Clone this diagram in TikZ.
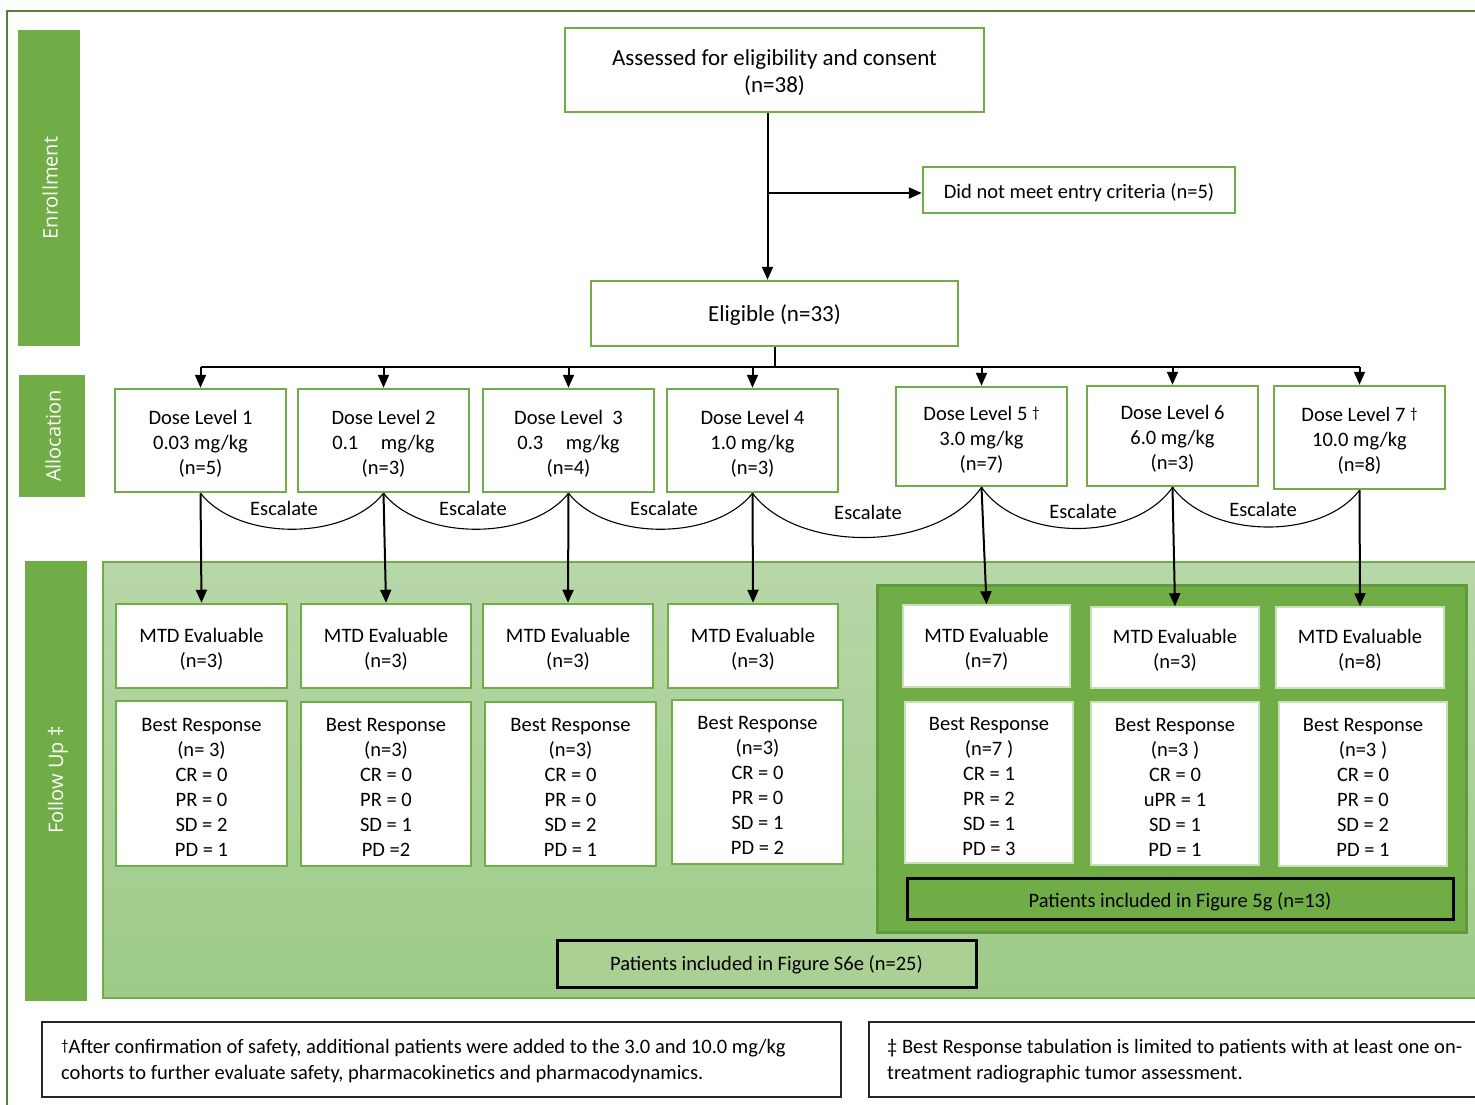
\documentclass[tikz,border=0pt]{standalone}
\usepackage{fontspec}
\setmainfont{Carlito}
\newfontfamily\sidefont{Open Sans}
\usetikzlibrary{arrows.meta}
\definecolor{gr}{RGB}{112,173,71}
\definecolor{frame}{RGB}{84,130,53}
\definecolor{lighttop}{RGB}{183,215,168}
\definecolor{lightbot}{RGB}{158,203,136}
\definecolor{darkbd}{RGB}{96,154,60}
\definecolor{s6e}{RGB}{170,208,148}
\definecolor{innerbd}{RGB}{200,225,185}
\newcommand{\dg}{{\fontsize{15}{15}\selectfont\raisebox{2.5pt}{†}}}
\newcommand{\sr}{\rule{0pt}{20.5pt}}
\begin{document}
\begin{tikzpicture}[x=1pt,y=-1pt,
  gbox/.style={draw=gr, line width=2.5pt, fill=white, align=center, inner sep=0pt,
    font=\fontsize{20.5}{25}\selectfont, text=black, execute at begin node={\rule{0pt}{19.5pt}}},
  wbox/.style={gbox, draw=innerbd, line width=1.5pt},
  pbox/.style={draw=black, line width=3pt, align=center, inner sep=0pt,
    font=\fontsize{20.5}{25}\selectfont, text=black},
  fbox/.style={draw=black!85, line width=1.5pt, inner sep=0pt},
  ftext/.style={align=left, anchor=west, inner sep=0pt, font=\fontsize{20.5}{26}\selectfont},
  side/.style={rotate=90, text=white, inner sep=0pt, font=\sidefont\fontsize{20}{22}\selectfont},
  esc/.style={inner sep=0pt, font=\fontsize{20.5}{22}\selectfont},
  arr/.style={draw=black, line width=2pt, -{Triangle[length=13pt,width=11pt]}},
  line/.style={draw=black, line width=2pt},
  arc/.style={draw=black, line width=1.1pt}
]
\useasboundingbox (0,0) rectangle (1475,1105);
% frame
\draw[frame, line width=1.3pt] (7,1105) -- (7,11) -- (1480,11);
% side bars
\fill[gr] (18,30) rectangle (80,346);
\node[side] (enr) at (50,188) {Enrollment};
\fill[gr] (19,375) rectangle (85,497);
\node[side] (alloc) at (53,436) {Allocation};
\fill[gr] (25,561) rectangle (87,1001);
\node[side] (fu) at (58,780) {Follow Up ‡};
% panels
\shade[top color=lighttop, bottom color=lightbot] (103,562) rectangle (1480,998);
\draw[gr, line width=1.3pt] (1480,562) -- (103,562) -- (103,998) -- (1480,998);
\draw[darkbd, fill=gr, line width=3pt] (877,585) rectangle (1466,932);
% top boxes
\node[gbox, minimum width=419pt, minimum height=84pt, font=\fontsize{23}{27}\selectfont] (assess) at (774.5,70) {\sr Assessed for eligibility and consent\\(n=38)};
\node[gbox, minimum width=312pt, minimum height=46pt] (dnm) at (1079,190) {Did not meet entry criteria (n=5)};
\node[gbox, minimum width=367pt, minimum height=65pt, font=\fontsize{23}{26}\selectfont] (elig) at (774.5,313.5) {Eligible (n=33)};
% dose boxes
\node[gbox, minimum width=171pt, minimum height=103pt] (d1) at (200.5,440.5) {\sr Dose Level 1\\0.03 mg/kg\\(n=5)};
\node[gbox, minimum width=171pt, minimum height=103pt] (d2) at (383.5,440.5) {\sr Dose Level 2\\0.1\hspace{1.1em}mg/kg\\(n=3)};
\node[gbox, minimum width=171pt, minimum height=103pt] (d3) at (568.5,440.5) {\sr Dose Level\ \ 3\\0.3\hspace{1.1em}mg/kg\\(n=4)};
\node[gbox, minimum width=171pt, minimum height=103pt] (d4) at (752.5,440.5) {\sr Dose Level 4\\1.0 mg/kg\\(n=3)};
\node[gbox, minimum width=171pt, minimum height=99pt] (d5) at (981.5,436.5) {\sr Dose Level 5 \dg\\3.0 mg/kg\\(n=7)};
\node[gbox, minimum width=171pt, minimum height=100pt] (d6) at (1172.5,436) {\sr Dose Level 6\\6.0 mg/kg\\(n=3)};
\node[gbox, minimum width=171pt, minimum height=103pt] (d7) at (1359.5,437.5) {\sr Dose Level 7 \dg\\10.0 mg/kg\\(n=8)};
% MTD boxes
\node[gbox, minimum width=171pt, minimum height=84pt] (m1) at (201.5,646) {\sr MTD Evaluable\\(n=3)};
\node[gbox, minimum width=170pt, minimum height=84pt] (m2) at (386,646) {\sr MTD Evaluable\\(n=3)};
\node[gbox, minimum width=170pt, minimum height=84pt] (m3) at (568,646) {\sr MTD Evaluable\\(n=3)};
\node[gbox, minimum width=170pt, minimum height=84pt] (m4) at (753,646) {\sr MTD Evaluable\\(n=3)};
\node[wbox, minimum width=167pt, minimum height=82pt] (m5) at (986.5,646) {\sr MTD Evaluable\\(n=7)};
\node[wbox, minimum width=168pt, minimum height=81pt] (m6) at (1175,647.5) {\sr MTD Evaluable\\(n=3)};
\node[wbox, minimum width=168pt, minimum height=81pt] (m7) at (1360,647.5) {\sr MTD Evaluable\\(n=8)};
% best response boxes
\node[gbox, minimum width=171pt, minimum height=165pt] (b1) at (201.5,783.5) {\sr Best Response\\(n= 3)\\CR = 0\\PR = 0\\SD = 2\\PD = 1};
\node[gbox, minimum width=170pt, minimum height=164pt] (b2) at (386,784) {\sr Best Response\\(n=3)\\CR = 0\\PR = 0\\SD = 1\\PD =2};
\node[gbox, minimum width=171pt, minimum height=164pt] (b3) at (570.5,784) {\sr Best Response\\(n=3)\\CR = 0\\PR = 0\\SD = 2\\PD = 1};
\node[gbox, minimum width=171pt, minimum height=164pt] (b4) at (757.5,782) {\sr Best Response\\(n=3)\\CR = 0\\PR = 0\\SD = 1\\PD = 2};
\node[wbox, minimum width=168pt, minimum height=161pt] (b5) at (989,782.5) {\sr Best Response\\(n=7 )\\CR = 1\\PR = 2\\SD = 1\\PD = 3};
\node[wbox, minimum width=168pt, minimum height=163pt] (b6) at (1175,783.5) {\sr Best Response\\(n=3 )\\CR = 0\\uPR = 1\\SD = 1\\PD = 1};
\node[wbox, minimum width=168pt, minimum height=164pt] (b7) at (1363,784) {\sr Best Response\\(n=3 )\\CR = 0\\PR = 0\\SD = 2\\PD = 1};
% patient boxes
\node[pbox, fill=gr, minimum width=546pt, minimum height=41pt, text height=19.5pt, text depth=1pt] (p5g) at (1180,898.5) {Patients included in Figure 5g (n=13)};
\node[pbox, fill=s6e, minimum width=419pt, minimum height=47pt, text height=18pt, text depth=3.5pt] (p6e) at (766.5,963.5) {Patients included in Figure S6e (n=25)};
% footnotes
\node[fbox, minimum width=799pt, minimum height=75pt] (fn1) at (441.5,1059.5) {};
\node[ftext] (fn1t) at (61,1061) {\dg After confirmation of safety, additional patients were added to the 3.0 and 10.0 mg/kg\\cohorts to further evaluate safety, pharmacokinetics and pharmacodynamics.};
\node[fbox, minimum width=620pt, minimum height=75pt] (fn2) at (1179,1059.5) {};
\node[ftext] (fn2t) at (887,1061) {‡ Best Response tabulation is limited to patients with at least one on-\\treatment radiographic tumor assessment.};
% enrollment connectors
\coordinate (trunk) at ([xshift=-7pt]assess.south);
\draw[arr] (trunk) -- (trunk |- elig.north);
\path (trunk |- dnm.west) ++(0,3) coordinate (br);
\draw[arr] (br) -- (br -| dnm.west);
% bus
\draw[line] (elig.south) -- ++(0,20) coordinate (bus);
\draw[line] (d1.north |- bus) -- (d7.north |- bus);
\foreach \d in {d1,d2,d3,d4,d5,d6,d7}{
  \draw[arr] (\d.north |- bus) -- (\d.north);
}
% dose to MTD
\draw[arr] (d1.south) -- (m1.north);
\draw[arr] (d2.south) -- (m2.north);
\draw[arr] (d3.south) -- (m3.north);
\draw[arr] (d4.south) -- (m4.north);
\draw[arr] (d5.south) -- (m5.north);
\draw[arr] (d6.south) -- (m6.north);
\draw[arr] (d7.south) -- (m7.north);
% escalate arcs
\draw[arc] (d1.south) .. controls +(38,48) and +(-38,48) .. (d2.south);
\draw[arc] (d2.south) .. controls +(38,48) and +(-38,48) .. (d3.south);
\draw[arc] (d3.south) .. controls +(38,48) and +(-38,48) .. (d4.south);
\draw[arc] (d4.south) .. controls +(45,60) and +(-45,66) .. (d5.south);
\draw[arc] (d5.south) .. controls +(38,55) and +(-38,55) .. (d6.south);
\draw[arc] (d6.south) .. controls +(38,52) and +(-38,50) .. (d7.south);
\node[esc] (e1) at (284,508) {Escalate};
\node[esc] (e2) at (473,508) {Escalate};
\node[esc] (e3) at (664,508) {Escalate};
\node[esc] (e4) at (868,512) {Escalate};
\node[esc] (e5) at (1083,511) {Escalate};
\node[esc] (e6) at (1263,509) {Escalate};
\end{tikzpicture}
\end{document}
